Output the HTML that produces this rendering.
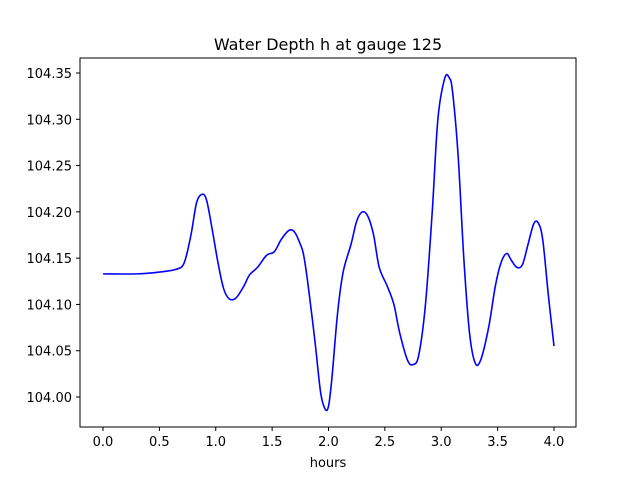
<!DOCTYPE html>
<html><head><meta charset="utf-8"><style>
body{margin:0;background:#fff;font-family:"Liberation Sans","DejaVu Sans",sans-serif}
</style></head><body>
<svg id="chart" width="640" height="480" xmlns="http://www.w3.org/2000/svg">
<rect width="640" height="480" fill="#fff"/>
<text x="328" y="50" text-anchor="middle" font-size="16" font-family="DejaVu Sans, sans-serif">Water Depth h at gauge 125</text>
<g id="ticks"></g>
<path id="series" fill="none" stroke="#0000ff" stroke-width="1.6" stroke-linejoin="round"/>
<rect x="80" y="58" width="496" height="369" fill="none" stroke="#000" stroke-width="1"/>
<text x="328" y="467" text-anchor="middle" font-size="13" font-family="DejaVu Sans, sans-serif">hours</text>
</svg>
<script>
const hours=[0,0.3,0.5,0.65,0.72,0.78,0.83,0.88,0.92,0.97,1.02,1.07,1.12,1.18,1.25,1.3,1.37,1.45,1.52,1.58,1.65,1.7,1.75,1.78,1.82,1.88,1.93,1.97,2.0,2.03,2.08,2.13,2.2,2.25,2.3,2.35,2.4,2.45,2.52,2.58,2.63,2.7,2.75,2.8,2.86,2.92,2.97,3.03,3.07,3.1,3.15,3.2,3.25,3.3,3.35,3.42,3.48,3.53,3.58,3.62,3.67,3.72,3.77,3.82,3.86,3.9,3.95,4.0];
const depth=[104.133,104.133,104.135,104.138,104.145,104.175,104.21,104.219,104.212,104.18,104.145,104.117,104.106,104.107,104.12,104.132,104.14,104.153,104.157,104.17,104.18,104.178,104.165,104.153,104.12,104.06,104.005,103.987,103.99,104.02,104.09,104.135,104.165,104.19,104.2,104.195,104.175,104.14,104.12,104.1,104.07,104.04,104.035,104.045,104.1,104.2,104.3,104.344,104.345,104.33,104.26,104.15,104.07,104.037,104.04,104.075,104.12,104.145,104.155,104.148,104.14,104.143,104.165,104.187,104.188,104.17,104.11,104.055];
const xTicks=[0,0.5,1,1.5,2,2.5,3,3.5,4];
const xTickLabels=["0.0","0.5","1.0","1.5","2.0","2.5","3.0","3.5","4.0"];
const yTicks=[104.00,104.05,104.10,104.15,104.20,104.25,104.30,104.35];
const yTickLabels=["104.00","104.05","104.10","104.15","104.20","104.25","104.30","104.35"];
const X=v=>103+v*112.75;
const Y=v=>397-(v-104.0)*925.7;
const NS="http://www.w3.org/2000/svg";
const g=document.getElementById('ticks');
function mk(t,a){const e=document.createElementNS(NS,t);for(const k in a)e.setAttribute(k,a[k]);g.appendChild(e);return e;}
xTicks.forEach((v,i)=>{
  const l=mk('line',{x1:X(v),x2:X(v),y1:427,y2:431,stroke:'#000'});
  
  
  const t=mk('text',{x:X(v),y:446,'text-anchor':'middle','font-size':13,'font-family':'DejaVu Sans, sans-serif'});
  t.textContent=xTickLabels[i];
  
  
});
yTicks.forEach((v,i)=>{
  const l=mk('line',{x1:76,x2:80,y1:Y(v),y2:Y(v),stroke:'#000'});
  
  
  const t=mk('text',{x:72,y:Y(v)+5,'text-anchor':'end','font-size':13,'font-family':'DejaVu Sans, sans-serif'});
  t.textContent=yTickLabels[i];
  
  
});
// Catmull-Rom smooth path
const P=hours.map((h,i)=>[X(h),Y(depth[i])]);
let d='M'+P[0][0]+','+P[0][1];
for(let i=0;i<P.length-1;i++){
  const p0=P[Math.max(0,i-1)],p1=P[i],p2=P[i+1],p3=P[Math.min(P.length-1,i+2)];
  const c1=[p1[0]+(p2[0]-p0[0])/6,p1[1]+(p2[1]-p0[1])/6];
  const c2=[p2[0]-(p3[0]-p1[0])/6,p2[1]-(p3[1]-p1[1])/6];
  d+=` C${c1[0]},${c1[1]} ${c2[0]},${c2[1]} ${p2[0]},${p2[1]}`;
}
document.getElementById('series').setAttribute('d',d);
</script>
</body></html>
